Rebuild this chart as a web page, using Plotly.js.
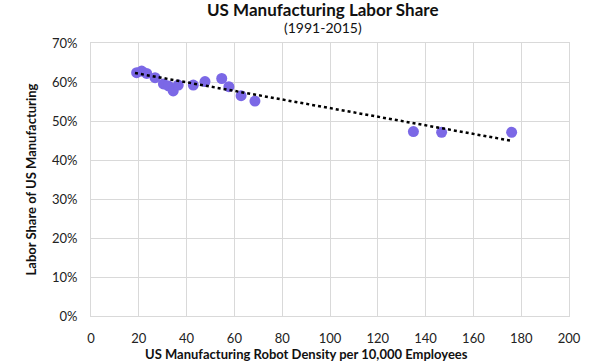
<!DOCTYPE html>
<html><head><meta charset="utf-8">
<script src="https://cdn.plot.ly/plotly-3.0.1.min.js"></script>
<style>html,body{margin:0;padding:0;background:#fff}#chart{width:600px;height:363px}</style>
</head><body><div id="chart"></div>
<script>
// Robot density per 10,000 employees
const robotDensity = [19.1, 21.2, 23.3, 26.8, 30.3, 32.4, 34.4, 36.5, 42.8, 47.7, 54.7, 57.7, 62.8, 68.6, 134.9, 146.7, 176.0];
// Labor share (%)
const laborShare = [62.4, 62.8, 62.2, 61.1, 59.5, 59.0, 57.7, 59.2, 59.2, 60.1, 60.9, 58.8, 56.5, 55.1, 47.3, 47.1, 47.1];
// Linear trend endpoints
const trendX = [18.4, 176.2];
const trendY = [62.3, 44.9];
const xTicks = [0, 20, 40, 60, 80, 100, 120, 140, 160, 180, 200];
const yTicks = [0, 10, 20, 30, 40, 50, 60, 70];

const FONT = 'Lato, "Open Sans", sans-serif';
const grid = '#d9d9d9';

const data = [
  {x: robotDensity, y: laborShare, type: 'scatter', mode: 'markers',
   marker: {size: 11, color: '#7b68e6'}, hoverinfo: 'skip'},
  {x: trendX, y: trendY, type: 'scatter', mode: 'lines',
   line: {color: '#000', width: 2.5, dash: 'dot'}, hoverinfo: 'skip'}
];

const layout = {
  width: 600, height: 363,
  margin: {l: 91, r: 31, t: 43, b: 47},
  paper_bgcolor: '#fff', plot_bgcolor: '#fff',
  showlegend: false,
  font: {family: FONT, color: '#222', size: 12},
  xaxis: {range: [0, 200], tickvals: xTicks, ticktext: xTicks.map(String),
          showgrid: true, gridcolor: grid, gridwidth: 1, zeroline: false,
          showline: true, linecolor: grid, mirror: true, ticks: '',
          ticklabelstandoff: 10,
          tickfont: {size: 13, color: '#222'}, fixedrange: true},
  yaxis: {range: [0, 70], tickvals: yTicks, ticktext: yTicks.map(v => v + '%'),
          showgrid: true, gridcolor: grid, gridwidth: 1, zeroline: false,
          showline: true, linecolor: grid, mirror: true, ticks: '',
          ticklabelstandoff: 10,
          tickfont: {size: 13, color: '#222'}, fixedrange: true,
          title: {text: '<b>Labor Share of US Manufacturing</b>', font: {size: 13, color: '#111'}, standoff: 12}},
  annotations: [
    {text: '<b>US Manufacturing Labor Share</b>', xref: 'paper', yref: 'paper', x: 0.485, y: 1, yshift: 34,
     showarrow: false, font: {size: 17, color: '#111'}, xanchor: 'center', yanchor: 'middle'},
    {text: '(1991-2015)', xref: 'paper', yref: 'paper', x: 0.485, y: 1, yshift: 16,
     showarrow: false, font: {size: 14, color: '#111'}, xanchor: 'center', yanchor: 'middle'},
    {text: '<b>US Manufacturing Robot Density per 10,000 Employees</b>', xref: 'paper', yref: 'paper', x: 0.45, y: 0, yshift: -28,
     showarrow: false, font: {size: 13, color: '#111'}, xanchor: 'center', yanchor: 'top'}
  ]
};

Plotly.newPlot('chart', data, layout, {displayModeBar: false, staticPlot: true});
</script></body></html>
